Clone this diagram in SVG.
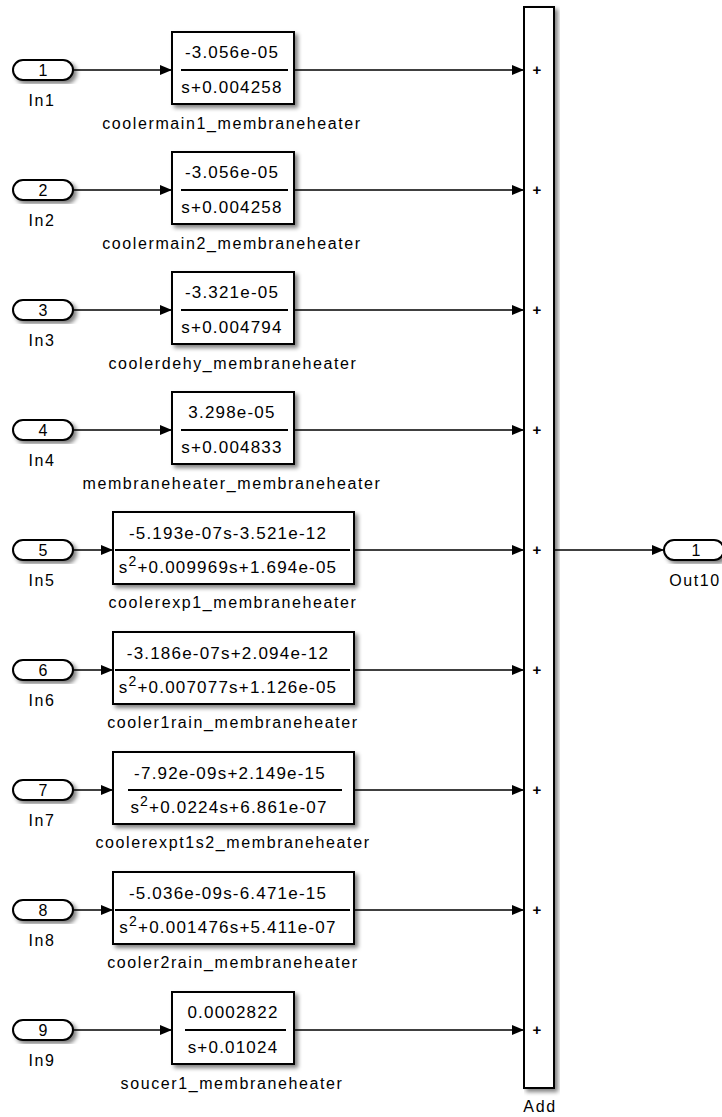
<svg xmlns="http://www.w3.org/2000/svg" width="722" height="1117" viewBox="0 0 722 1117">
<defs>
<style>
.blk{fill:#fff;stroke:#000;stroke-width:2;filter:url(#sh)}
.port{fill:#fff;stroke:#000;stroke-width:2;filter:url(#sh)}
.t{font-family:"Liberation Sans",Arial,sans-serif;font-size:17px;letter-spacing:1.2px;fill:#000;text-anchor:middle}
.lbl{font-family:"Liberation Sans",Arial,sans-serif;font-size:16px;letter-spacing:1.6px;fill:#000;text-anchor:middle}
.pn{font-family:"Liberation Sans",Arial,sans-serif;font-size:16px;fill:#000;text-anchor:middle}
.frac{stroke:#000;stroke-width:2}
.w{stroke:#000;stroke-width:1.5;fill:none;marker-end:url(#ah)}
.plus{font-family:"Liberation Sans",Arial,sans-serif;font-size:15px;font-weight:bold;fill:#000;text-anchor:middle}
</style>
<filter id="sh" x="-10%" y="-10%" width="130%" height="130%">
<feGaussianBlur in="SourceAlpha" stdDeviation="2"/>
<feOffset dx="3" dy="3" result="b"/>
<feComponentTransfer><feFuncA type="linear" slope="0.5"/></feComponentTransfer>
<feMerge><feMergeNode/><feMergeNode in="SourceGraphic"/></feMerge>
</filter>
<marker id="ah" markerWidth="12" markerHeight="10" refX="12" refY="5" orient="auto" markerUnits="userSpaceOnUse">
<path d="M0,0 L12,5 L0,10 z" fill="#000"/>
</marker>
</defs>

<g id="connectors">
<line class="w" x1="73" y1="70" x2="172" y2="70"/>
<line class="w" x1="73" y1="190" x2="172" y2="190"/>
<line class="w" x1="73" y1="310" x2="172" y2="310"/>
<line class="w" x1="73" y1="430" x2="172" y2="430"/>
<line class="w" x1="73" y1="550" x2="113" y2="550"/>
<line class="w" x1="73" y1="670" x2="113" y2="670"/>
<line class="w" x1="73" y1="790" x2="113" y2="790"/>
<line class="w" x1="73" y1="910" x2="113" y2="910"/>
<line class="w" x1="73" y1="1030" x2="172" y2="1030"/>
<line class="w" x1="294" y1="70" x2="524" y2="70"/>
<line class="w" x1="294" y1="190" x2="524" y2="190"/>
<line class="w" x1="294" y1="310" x2="524" y2="310"/>
<line class="w" x1="294" y1="430" x2="524" y2="430"/>
<line class="w" x1="354" y1="550" x2="524" y2="550"/>
<line class="w" x1="354" y1="670" x2="524" y2="670"/>
<line class="w" x1="354" y1="790" x2="524" y2="790"/>
<line class="w" x1="354" y1="910" x2="524" y2="910"/>
<line class="w" x1="294" y1="1030" x2="524" y2="1030"/>
<line class="w" x1="554" y1="550" x2="664" y2="550"/>
</g>

<g id="In1"><rect class="port" x="13" y="60" width="60" height="20" rx="10"/><text class="pn" x="43" y="76">1</text><text class="lbl" x="42" y="106">In1</text></g>
<g id="In2"><rect class="port" x="13" y="180" width="60" height="20" rx="10"/><text class="pn" x="43" y="196">2</text><text class="lbl" x="42" y="226">In2</text></g>
<g id="In3"><rect class="port" x="13" y="300" width="60" height="20" rx="10"/><text class="pn" x="43" y="316">3</text><text class="lbl" x="42" y="346">In3</text></g>
<g id="In4"><rect class="port" x="13" y="420" width="60" height="20" rx="10"/><text class="pn" x="43" y="436">4</text><text class="lbl" x="42" y="466">In4</text></g>
<g id="In5"><rect class="port" x="13" y="540" width="60" height="20" rx="10"/><text class="pn" x="43" y="556">5</text><text class="lbl" x="42" y="586">In5</text></g>
<g id="In6"><rect class="port" x="13" y="660" width="60" height="20" rx="10"/><text class="pn" x="43" y="676">6</text><text class="lbl" x="42" y="706">In6</text></g>
<g id="In7"><rect class="port" x="13" y="780" width="60" height="20" rx="10"/><text class="pn" x="43" y="796">7</text><text class="lbl" x="42" y="826">In7</text></g>
<g id="In8"><rect class="port" x="13" y="900" width="60" height="20" rx="10"/><text class="pn" x="43" y="916">8</text><text class="lbl" x="42" y="946">In8</text></g>
<g id="In9"><rect class="port" x="13" y="1020" width="60" height="20" rx="10"/><text class="pn" x="43" y="1036">9</text><text class="lbl" x="42" y="1066">In9</text></g>

<g id="tf1"><rect class="blk" x="172" y="32" width="122" height="72"/><line class="frac" x1="181" y1="70" x2="288" y2="70"/><text class="t" x="232" y="58">-3.056e-05</text><text class="t" x="232" y="93">s+0.004258</text><text class="lbl" x="232" y="129">coolermain1_membraneheater</text></g>
<g id="tf2"><rect class="blk" x="172" y="152" width="122" height="72"/><line class="frac" x1="181" y1="190" x2="288" y2="190"/><text class="t" x="232" y="178">-3.056e-05</text><text class="t" x="232" y="213">s+0.004258</text><text class="lbl" x="232" y="249">coolermain2_membraneheater</text></g>
<g id="tf3"><rect class="blk" x="172" y="272" width="122" height="72"/><line class="frac" x1="181" y1="310" x2="288" y2="310"/><text class="t" x="232" y="298">-3.321e-05</text><text class="t" x="232" y="333">s+0.004794</text><text class="lbl" x="233" y="369">coolerdehy_membraneheater</text></g>
<g id="tf4"><rect class="blk" x="172" y="392" width="122" height="72"/><line class="frac" x1="181" y1="430" x2="288" y2="430"/><text class="t" x="232" y="418">3.298e-05</text><text class="t" x="232" y="453">s+0.004833</text><text class="lbl" x="232" y="489">membraneheater_membraneheater</text></g>
<g id="tf5"><rect class="blk" x="113" y="512" width="241" height="72"/><line class="frac" x1="115" y1="550" x2="350" y2="550"/><text class="t" x="228" y="539">-5.193e-07s-3.521e-12</text><text class="t" x="228" y="573">s<tspan dy="-7" font-size="14">2</tspan><tspan dy="7">+0.009969s+1.694e-05</tspan></text><text class="lbl" x="233" y="608">coolerexp1_membraneheater</text></g>
<g id="tf6"><rect class="blk" x="113" y="632" width="241" height="72"/><line class="frac" x1="115" y1="670" x2="350" y2="670"/><text class="t" x="228" y="659">-3.186e-07s+2.094e-12</text><text class="t" x="228" y="693">s<tspan dy="-7" font-size="14">2</tspan><tspan dy="7">+0.007077s+1.126e-05</tspan></text><text class="lbl" x="233" y="728">cooler1rain_membraneheater</text></g>
<g id="tf7"><rect class="blk" x="113" y="752" width="241" height="72"/><line class="frac" x1="128" y1="790" x2="342" y2="790"/><text class="t" x="230" y="779">-7.92e-09s+2.149e-15</text><text class="t" x="229" y="813">s<tspan dy="-7" font-size="14">2</tspan><tspan dy="7">+0.0224s+6.861e-07</tspan></text><text class="lbl" x="233" y="848">coolerexpt1s2_membraneheater</text></g>
<g id="tf8"><rect class="blk" x="113" y="872" width="241" height="72"/><line class="frac" x1="115" y1="910" x2="350" y2="910"/><text class="t" x="228" y="899">-5.036e-09s-6.471e-15</text><text class="t" x="228" y="933">s<tspan dy="-7" font-size="14">2</tspan><tspan dy="7">+0.001476s+5.411e-07</tspan></text><text class="lbl" x="233" y="968">cooler2rain_membraneheater</text></g>
<g id="tf9"><rect class="blk" x="172" y="992" width="122" height="72"/><line class="frac" x1="185" y1="1030" x2="286" y2="1030"/><text class="t" x="233" y="1018">0.0002822</text><text class="t" x="233" y="1053">s+0.01024</text><text class="lbl" x="232" y="1089">soucer1_membraneheater</text></g>

<g id="Add"><rect class="blk" x="524" y="7" width="30" height="1081"/>
<text class="plus" x="537" y="75">+</text><text class="plus" x="537" y="195">+</text><text class="plus" x="537" y="315">+</text><text class="plus" x="537" y="435">+</text><text class="plus" x="537" y="555">+</text><text class="plus" x="537" y="675">+</text><text class="plus" x="537" y="795">+</text><text class="plus" x="537" y="915">+</text><text class="plus" x="537" y="1035">+</text>
<text class="lbl" x="540" y="1112">Add</text></g>

<g id="Out10"><rect class="port" x="664" y="540" width="60" height="20" rx="10"/><text class="pn" x="696" y="556">1</text><text class="lbl" x="695" y="586">Out10</text></g>
</svg>
